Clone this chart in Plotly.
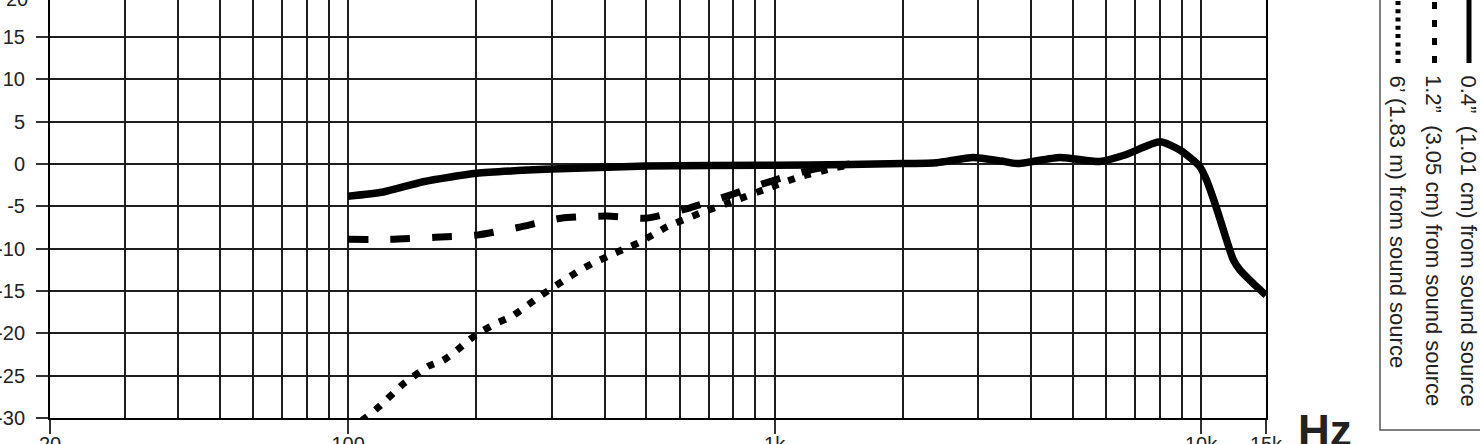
import math
import plotly.graph_objects as go

# ---------------- data ----------------
# 0.4" (1.01 cm) from sound source
freq_near = [100, 121, 150, 200, 300, 500, 1000, 1500, 2000, 2400, 2920, 3400,
             3700, 4670, 5790, 6630, 8010, 8920, 9930, 10300, 10900, 11480,
             11900, 12330, 13250, 14200]
db_near = [-3.8, -3.3, -2.1, -1.1, -0.6, -0.25, -0.15, -0.05, 0.05, 0.15, 0.78, 0.35,
           0.05, 0.78, 0.3, 1.06, 2.62, 1.65, -0.3, -1.9, -5.4, -9.0,
           -11.3, -12.5, -14.1, -15.5]

# 1.2" (3.05 cm) from sound source
freq_mid = [100, 126, 160, 200, 250, 316, 404, 500, 631, 783, 1000, 1240, 1500]
db_mid = [-8.9, -8.9, -8.65, -8.4, -7.5, -6.4, -6.15, -6.4, -5.2, -3.7, -1.9, -0.6, 0.0]

# 6' (1.83 m) from sound source
freq_far = [107.8, 110.7, 118, 134.5, 153.9, 167, 180, 193, 207, 223, 242, 260, 280,
            300, 324, 348, 377, 407, 441, 481, 560, 669, 799, 960, 1147, 1371, 1500]
db_far = [-30.3, -29.85, -28.7, -26.0, -23.9, -23.2, -22.0, -20.7, -19.7, -18.8, -18.0,
          -16.9, -15.7, -14.7, -13.6, -12.6, -11.65, -10.9, -10.1, -9.3, -7.4, -5.8,
          -4.4, -2.9, -1.5, -0.5, -0.1]

series_names = ["0.4\u201d\u00a0 (1.01 cm) from sound source",
                "1.2\u201d\u00a0 (3.05 cm) from sound source",
                "6\u2019 (1.83 m) from sound source"]

x_major_vals = [20, 100, 1000, 10000, 14200]
x_major_text = ["20", "100", "1k", "10k", "15k"]
x_minor_vals = [30, 40, 50, 60, 70, 80, 90,
                200, 300, 400, 500, 600, 700, 800, 900,
                2000, 3000, 4000, 5000, 6000, 7000, 8000, 9000]
y_tick_vals = [-30, -25, -20, -15, -10, -5, 0, 5, 10, 15]
y_tick_text = ["-30", "-25", "-20", "-15", "-10", "-5", "0", "5", "10", "15"]
y_top_tick, y_top_text = 20, "20"
y_min, y_max = -30, 19.37
x_min, x_max = 20, 14200

# ---------------- layout constants ----------------
W, H = 1480, 444
ML, MR, MT, MB = 50, 214, 0, 26
PW, PH = W - ML - MR, H - MT - MB
TXT = "#222222"
FONT = "Liberation Sans, Arial, sans-serif"
TICK_FS = 20


def px_to_paper_x(px):
    return (px - ML) / PW


def px_to_paper_y(py):
    return (H - MB - py) / PH


fig = go.Figure()

fig.add_trace(go.Scatter(x=freq_near, y=db_near, mode="lines", name=series_names[0],
                         line=dict(color="black", width=7.5, shape="spline", smoothing=0.6)))
fig.add_trace(go.Scatter(x=freq_mid, y=db_mid, mode="lines", name=series_names[1],
                         line=dict(color="black", width=7, shape="spline", smoothing=0.6,
                                   dash="20px,22px")))
fig.add_trace(go.Scatter(x=freq_far, y=db_far, mode="lines", name=series_names[2],
                         line=dict(color="black", width=7, shape="spline", smoothing=0.4,
                                   dash="7px,10px")))

grid_col = "#1e1e1e"

fig.update_layout(
    width=W, height=H,
    margin=dict(l=ML, r=MR, t=MT, b=MB, pad=0, autoexpand=False),
    paper_bgcolor="white", plot_bgcolor="white",
    showlegend=False,
    font=dict(family=FONT, color=TXT, size=TICK_FS),
    xaxis=dict(
        type="log", range=[math.log10(x_min), math.log10(x_max)],
        tickmode="array", tickvals=x_major_vals, ticktext=x_major_text,
        ticks="outside", ticklen=14, tickwidth=1.5, tickcolor="#333",
        showgrid=True, gridcolor=grid_col, gridwidth=1.6,
        showline=True, linecolor="black", linewidth=2, mirror=False,
        tickfont=dict(size=TICK_FS, color=TXT, family=FONT),
        ticklabelstandoff=-7,
        minor=dict(tickvals=x_minor_vals, showgrid=True, gridcolor=grid_col,
                   gridwidth=1.6, ticks=""),
        zeroline=False, fixedrange=True, automargin=False,
    ),
    yaxis=dict(
        range=[y_min, y_max], tickmode="array", tickvals=y_tick_vals, ticktext=y_tick_text,
        ticks="outside", ticklen=12, tickwidth=1.5, tickcolor="#333",
        showgrid=True, gridcolor=grid_col, gridwidth=1.6,
        showline=True, linecolor="black", linewidth=2, mirror=True,
        tickfont=dict(size=TICK_FS, color=TXT, family=FONT),
        ticklabelstandoff=7,
        zeroline=False, fixedrange=True, automargin=False,
    ),
)

# y label for 20 dB, just above the visible area (cut off like the reference)
fig.add_annotation(x=0, xref="paper",
                   y=(y_top_tick - y_min) / (y_max - y_min), yref="paper",
                   text=y_top_text, showarrow=False,
                   xanchor="right", yanchor="middle", xshift=-20, yshift=-4,
                   font=dict(size=TICK_FS, color=TXT, family=FONT))

# Hz unit label
fig.add_annotation(x=px_to_paper_x(1296), xref="paper", y=px_to_paper_y(404), yref="paper",
                   text="<b>Hz</b>", showarrow=False, xanchor="left", yanchor="top",
                   font=dict(size=44, color=TXT, family=FONT))

# legend box
fig.add_shape(type="rect", xref="paper", yref="paper",
              x0=px_to_paper_x(1380), x1=px_to_paper_x(1500),
              y0=px_to_paper_y(430), y1=px_to_paper_y(-20),
              line=dict(color="#555555", width=1.5), fillcolor="rgba(0,0,0,0)")

legend_cols = [1468, 1433.5, 1397]
legend_dash = ["solid", "7px,11px", "4px,4.3px"]
legend_width = [5, 5, 5]
for cx, dsh, lw, name in zip(legend_cols, legend_dash, legend_width, series_names):
    fig.add_shape(type="line", xref="paper", yref="paper",
                  x0=px_to_paper_x(cx + 1), x1=px_to_paper_x(cx + 1),
                  y0=px_to_paper_y(63), y1=px_to_paper_y(-10),
                  line=dict(color="black", width=lw, dash=dsh))
    fig.add_annotation(x=px_to_paper_x(cx), xref="paper", y=px_to_paper_y(73), yref="paper",
                       text=name, textangle=90, showarrow=False,
                       xanchor="center", yanchor="top",
                       font=dict(size=22, color=TXT, family=FONT))

fig.write_html("out.html",
               config={"displayModeBar": False},
               post_script="document.body.style.margin='0';document.body.style.padding='0';"
                           "document.body.style.overflow='hidden';")
